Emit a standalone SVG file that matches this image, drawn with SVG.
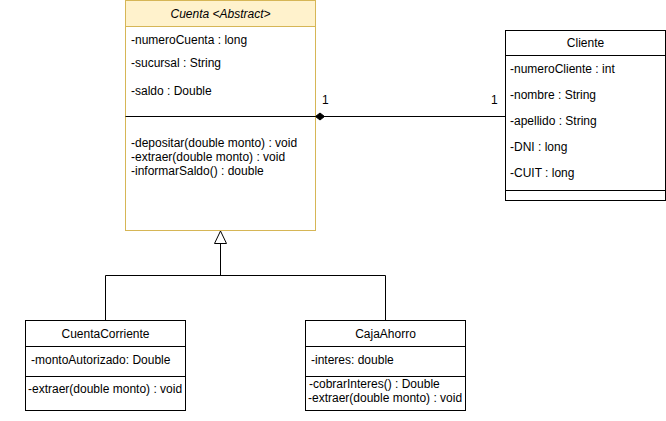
<svg xmlns="http://www.w3.org/2000/svg" width="666" height="421" viewBox="0 0 666 421">
<style>
text{font-family:"Liberation Sans",Arial,sans-serif;font-size:12px;fill:#000}
.c{text-anchor:middle}
.box{fill:#fff;stroke:#000;stroke-width:1}
.abs{fill:#fff;stroke:#d6b656;stroke-width:1}
.hdr{fill:#fff2cc;stroke:#d6b656;stroke-width:1}
.ln{stroke:#000;stroke-width:1;fill:none}
</style>
<rect width="666" height="421" fill="#fff"/>
<g id="Cuenta">
<rect class="abs" x="125.5" y="0.5" width="190" height="230"/>
<rect class="hdr" x="125.5" y="0.5" width="190" height="26"/>
<text class="c" x="220.5" y="18" font-style="italic">Cuenta &lt;Abstract&gt;</text>
<text x="131" y="44">-numeroCuenta : long</text>
<text x="131" y="67">-sucursal : String</text>
<text x="131" y="95">-saldo : Double</text>
<line class="ln" x1="125.5" y1="116.5" x2="315.5" y2="116.5"/>
<text x="131" y="147">-depositar(double monto) : void</text>
<text x="131" y="161">-extraer(double monto) : void</text>
<text x="131" y="175">-informarSaldo() : double</text>
</g>
<g id="Cliente">
<rect class="box" x="505.5" y="30.5" width="160" height="170"/>
<line class="ln" x1="505.5" y1="55.5" x2="665.5" y2="55.5"/>
<text class="c" x="585.5" y="47">Cliente</text>
<text x="510" y="73">-numeroCliente : int</text>
<text x="510" y="99">-nombre : String</text>
<text x="510" y="125">-apellido : String</text>
<text x="510" y="151">-DNI : long</text>
<text x="510" y="177">-CUIT : long</text>
<line class="ln" x1="505.5" y1="190.5" x2="665.5" y2="190.5"/>
</g>
<g id="CuentaCorriente">
<rect class="box" x="25.5" y="320.5" width="160" height="90"/>
<line class="ln" x1="25.5" y1="346.5" x2="185.5" y2="346.5"/>
<text class="c" x="105.5" y="338">CuentaCorriente</text>
<text x="31" y="364">-montoAutorizado: Double</text>
<line class="ln" x1="25.5" y1="376.5" x2="185.5" y2="376.5"/>
<text x="28" y="393">-extraer(double monto) : void</text>
</g>
<g id="CajaAhorro">
<rect class="box" x="305.5" y="320.5" width="160" height="90"/>
<line class="ln" x1="305.5" y1="346.5" x2="465.5" y2="346.5"/>
<text class="c" x="385.5" y="338">CajaAhorro</text>
<text x="311" y="364">-interes: double</text>
<line class="ln" x1="305.5" y1="376.5" x2="465.5" y2="376.5"/>
<text x="309" y="388">-cobrarInteres() : Double</text>
<text x="308" y="402">-extraer(double monto) : void</text>
</g>
<g id="connectors">
<line class="ln" x1="320" y1="116.5" x2="505.5" y2="116.5"/>
<path d="M315.5 116.5 L320 113 L324.5 116.5 L320 120 Z" fill="#000" stroke="#000"/>
<text x="322" y="104">1</text>
<text x="491" y="104">1</text>
<path class="ln" d="M105.5 320.5 V275.5 H385.5 V320.5 M220.5 275.5 V243.5"/>
<path d="M220.5 231 L226.5 243.5 L214.5 243.5 Z" fill="#fff" stroke="#000"/>
</g>
</svg>
